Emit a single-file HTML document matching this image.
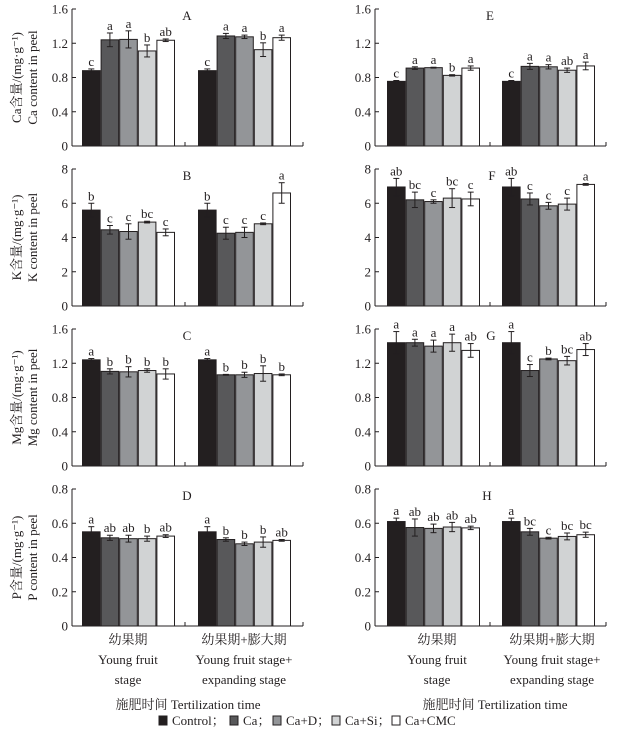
<!DOCTYPE html>
<html><head><meta charset="utf-8"><style>
html,body{margin:0;padding:0;background:#fff}
svg{display:block}
text{font-family:"Liberation Serif","Noto Serif CJK SC","Noto Sans CJK SC",serif;fill:#231f20}
</style></head><body>
<svg id="chart" width="623" height="732" viewBox="0 0 623 732"></svg>
<script>
const treatments = ["Control","Ca","Ca+D","Ca+Si","Ca+CMC"];
const stages = ["Young fruit stage","Young fruit stage+expanding stage"];
const panelNames = ["A","B","C","D","E","F","G","H"];
const yMaxes = [1.6,8,1.6,0.8,1.6,8,1.6,0.8];
const tickLabelsA = ["0","0.4","0.8","1.2","1.6"];
const tickLabelsB = ["0","2","4","6","8"];
const tickLabelsD = ["0","0.2","0.4","0.6","0.8"];
const valA = [[0.88,1.24,1.245,1.11,1.235],[0.88,1.285,1.275,1.125,1.265]];
const errA = [[0.02,0.08,0.1,0.07,0.015],[0.02,0.03,0.02,0.08,0.03]];
const letA = [["c","a","a","b","ab"],["c","a","a","b","a"]];
const valB = [[5.6,4.45,4.35,4.9,4.3],[5.6,4.25,4.3,4.8,6.6]];
const errB = [[0.4,0.25,0.45,0.05,0.2],[0.4,0.35,0.3,0.05,0.6]];
const letB = [["b","c","c","bc","c"],["b","c","c","c","a"]];
const valC = [[1.24,1.105,1.1,1.115,1.075],[1.24,1.065,1.065,1.08,1.065]];
const errC = [[0.015,0.03,0.06,0.02,0.06],[0.015,0.005,0.03,0.09,0.01]];
const letC = [["a","b","b","b","b"],["a","b","b","b","b"]];
const valD = [[0.55,0.515,0.51,0.51,0.525],[0.55,0.505,0.48,0.49,0.5]];
const errD = [[0.03,0.015,0.02,0.015,0.008],[0.03,0.01,0.01,0.03,0.005]];
const letD = [["a","ab","ab","b","ab"],["a","b","b","b","ab"]];
const valE = [[0.755,0.91,0.915,0.825,0.91],[0.755,0.93,0.925,0.885,0.935]];
const errE = [[0.01,0.015,0.005,0.008,0.025],[0.01,0.035,0.025,0.025,0.045]];
const letE = [["c","a","a","b","a"],["c","a","a","ab","a"]];
const valF = [[6.95,6.2,6.1,6.3,6.25],[6.95,6.25,5.85,5.95,7.1]];
const errF = [[0.5,0.45,0.1,0.55,0.4],[0.5,0.35,0.2,0.35,0.05]];
const letF = [["ab","bc","c","bc","c"],["ab","c","c","c","a"]];
const valG = [[1.44,1.44,1.4,1.44,1.35],[1.44,1.115,1.25,1.23,1.36]];
const errG = [[0.13,0.04,0.07,0.1,0.08],[0.13,0.07,0.01,0.05,0.07]];
const letG = [["a","a","a","a","ab"],["a","c","b","bc","ab"]];
const valH = [[0.61,0.575,0.57,0.578,0.573],[0.61,0.55,0.513,0.523,0.533]];
const errH = [[0.02,0.05,0.025,0.027,0.01],[0.02,0.02,0.005,0.02,0.015]];
const letH = [["a","ab","ab","ab","ab"],["a","bc","c","bc","bc"]];

const NS="http://www.w3.org/2000/svg";
const svg=document.getElementById('chart');
const colors=["#231f20","#58585a","#939598","#d1d3d4","#ffffff"];
function mk(tag,attrs,parent){const e=document.createElementNS(NS,tag);for(const k in attrs)e.setAttribute(k,attrs[k]);(parent||svg).appendChild(e);return e;}
function txt(s,x,y,size,anchor,parent){const t=mk('text',{x:x,y:y,'font-size':size,'text-anchor':anchor||'middle'},parent);t.textContent=s;return t;}

const vals=[valA,valB,valC,valD,valE,valF,valG,valH];
const errs=[errA,errB,errC,errD,errE,errF,errG,errH];
const lets=[letA,letB,letC,letD,letE,letF,letG,letH];
const ticks=[tickLabelsA,tickLabelsB,tickLabelsA,tickLabelsD,tickLabelsA,tickLabelsB,tickLabelsA,tickLabelsD];
const zeros=[146,306,466,626];
const H=137;
const sides=[{ax:72,g:[10,126],tick:113,end:231},{ax:375,g:[12,127],tick:115,end:231}];
const labelPos=[[187,20],[187,180],[187,340],[187,500],[490,20],[492,180],[491,340],[487,500]];
const yTitles=[["Ca含量/(mg·g⁻¹)","Ca content in peel"],["K含量/(mg·g⁻¹)","K content in peel"],["Mg含量/(mg·g⁻¹)","Mg content in peel"],["P含量/(mg·g⁻¹)","P content in peel"]];

for(let p=0;p<8;p++){
  const side=sides[Math.floor(p/4)], row=p%4, y0=zeros[row], ymax=yMaxes[p];
  const g=mk('g',{});
  
  
  const ys=v=>y0-v/ymax*H;
  const ax=side.ax;
  const yl=mk('line',{x1:ax,y1:y0,x2:ax,y2:y0-H,stroke:'#231f20','stroke-width':1},g);
  
  
  const xl=mk('line',{x1:ax,y1:y0,x2:ax+side.end,y2:y0,stroke:'#231f20','stroke-width':1},g);
  
  
  mk('line',{x1:ax+side.tick,y1:y0,x2:ax+side.tick,y2:y0-4,stroke:'#231f20'},g);
  mk('line',{x1:ax+side.end,y1:y0,x2:ax+side.end,y2:y0-4,stroke:'#231f20'},g);
  ticks[p].forEach((t,i)=>{
    const y=y0-i/(ticks[p].length-1)*H;
    mk('line',{x1:ax,y1:y,x2:ax+4,y2:y,stroke:'#231f20'},g);
    const tl=txt(t,ax-4,y+4.5,13,'end',g);
    
    
  });
  const pl=txt(panelNames[p],labelPos[p][0],labelPos[p][1],13,'middle',g);
  
  
  const bw=18.6;
  for(let s=0;s<2;s++){
    for(let i=0;i<5;i++){
      const v=vals[p][s][i], e=errs[p][s][i];
      const x=ax+side.g[s]+i*bw;
      const r=mk('rect',{x:x+0.5,y:ys(v),width:bw-1,height:y0-ys(v),fill:colors[i],stroke:'#231f20','stroke-width':1},g);
      
      
      const cx=x+bw/2;
      mk('line',{x1:cx,y1:ys(v+e),x2:cx,y2:ys(v-e),stroke:'#231f20','stroke-width':1},g);
      mk('line',{x1:cx-3,y1:ys(v+e),x2:cx+3,y2:ys(v+e),stroke:'#231f20','stroke-width':1},g);
      mk('line',{x1:cx-3,y1:ys(v-e),x2:cx+3,y2:ys(v-e),stroke:'#231f20','stroke-width':1},g);
      const lt=txt(lets[p][s][i],cx,ys(v+e)-3,13,'middle',g);
      
      
    }
  }
  if(p<4){
    const cy=y0-H/2;
    const t1=mk('text',{x:0,y:0,'font-size':13,'text-anchor':'middle',transform:`translate(21,${cy}) rotate(-90)`},g);
    t1.textContent=yTitles[p][0];
    
    
    const t2=mk('text',{x:0,y:0,'font-size':13,'text-anchor':'middle',transform:`translate(37,${cy}) rotate(-90)`},g);
    t2.textContent=yTitles[p][1];
    
    
  }
  svg.appendChild(g);
}
[[128,244,188],[437,552,495]].forEach(c=>{
  const rows=[["幼果期","Young fruit","stage"],["幼果期+膨大期","Young fruit stage+","expanding stage"]];
  for(let s=0;s<2;s++){
    rows[s].forEach((t,k)=>{
      const el=txt(t,c[s],644+k*20,13,'middle');
      
      
    });
  }
  const xt=txt("施肥时间 Tertilization time",c[2],709,13,'middle');
  
  
});
const lg=mk('g',{});


const legX=[159,230,273,332,392];
const legLabels=["Control；","Ca；","Ca+D；","Ca+Si；","Ca+CMC"];
legLabels.forEach((l,i)=>{
  const e=mk('g',{},lg);
  
  
  mk('rect',{x:legX[i],y:716,width:8,height:9,fill:colors[i],stroke:'#231f20'},e);
  txt(l,legX[i]+13,725,13,'start',e);
});
</script>
</body></html>
